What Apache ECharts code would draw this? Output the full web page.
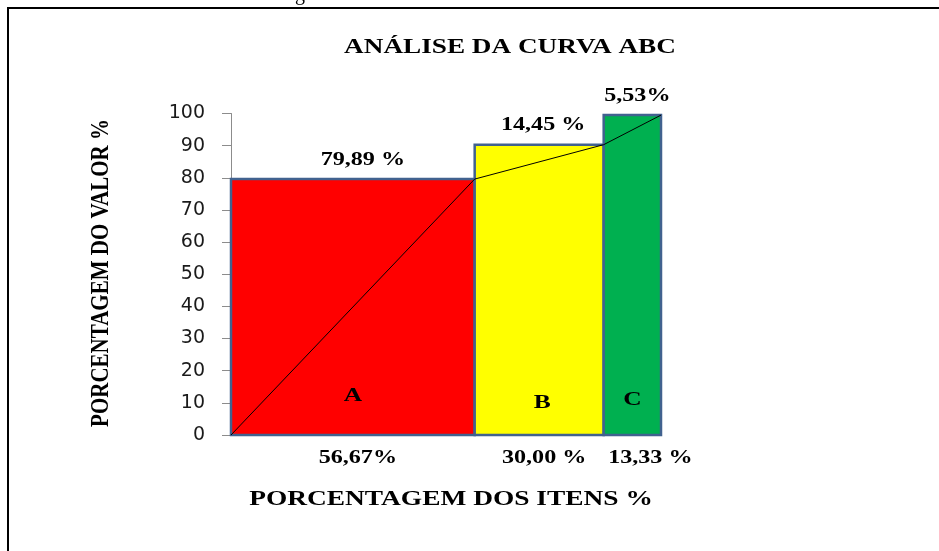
<!DOCTYPE html>
<html>
<head>
<meta charset="utf-8">
<script src="https://cdn.jsdelivr.net/npm/echarts@6/dist/echarts.min.js"></script>
<style>html,body{margin:0;padding:0;background:#fff}#c{width:939px;height:551px}</style>
</head>
<body>
<div id="c"></div>
<script>
// ---- data ----
const classes = ['A', 'B', 'C'];
const itemPct = [56.67, 30.00, 13.33];          // % of items (bar widths)
const valuePct = [79.89, 14.45, 5.53];          // % of value
const barHeights = [79.6, 90.3, 99.5];          // bar tops as drawn
const topLabels = ['79,89 %', '14,45 %', '5,53%'];
const bottomLabels = ['56,67%', '30,00 %', '13,33 %'];
const curveX = [0, 56.67, 86.67, 100];
const curveY = [0, 79.6, 90.3, 99.5];
const yTicks = [0, 100, 10]; // min, max, interval

// ---- build ----
const colors = ['#ff0000', '#ffff00', '#00b050'];
const topDx = [10, 4, 5];
const bottomDx = [5, 5, 18];
const letterDx = [0, 3, 0];
const letterY = [12, 10, 11];
const SX = 1.34;
const serif = '"Liberation Serif", "Times New Roman", serif';

let acc = 0;
const barData = itemPct.map((w, i) => {
  const s = acc; acc += w;
  return [s, acc, barHeights[i]];
});

function txt(x, y, s, size) {
  return {
    type: 'text', x: x, y: y, scaleX: SX, z2: 10,
    style: { text: s, x: 0, y: 0, align: 'center', verticalAlign: 'middle',
      font: 'bold ' + size + 'px ' + serif, fill: '#000' }
  };
}

const chart = echarts.init(document.getElementById('c'), null, { renderer: 'canvas' });
chart.setOption({
  backgroundColor: '#fff',
  animation: false,
  grid: { left: 231, right: 278, top: 113.5, bottom: 116 },
  xAxis: { type: 'value', min: 0, max: 100, show: false },
  yAxis: {
    type: 'value', min: yTicks[0], max: yTicks[1], interval: yTicks[2],
    splitLine: { show: false },
    axisLine: { show: true, lineStyle: { color: '#8c8c8c', width: 1 } },
    axisTick: { show: true, length: 9, lineStyle: { color: '#8c8c8c' } },
    axisLabel: { fontFamily: '"DejaVu Sans", sans-serif', fontSize: 19, color: '#1a1a1a', margin: 26 }
  },
  graphic: [
    { type: 'polyline', shape: { points: [[8, 551], [8, 8], [939, 8]] },
      style: { stroke: '#000', lineWidth: 2, fill: null } },
    { type: 'text', x: 300, y: 5, style: { text: 'g', font: '20px ' + serif, fill: '#000', align: 'center', verticalAlign: 'bottom' } },
    { type: 'text', x: 510, y: 48, scaleX: 1.36,
      style: { text: 'ANÁLISE DA CURVA ABC', x: 0, y: 0, align: 'center', verticalAlign: 'middle', font: 'bold 20px ' + serif, fill: '#000' } },
    { type: 'text', x: 451, y: 500, scaleX: 1.37,
      style: { text: 'PORCENTAGEM DOS ITENS %', x: 0, y: 0, align: 'center', verticalAlign: 'middle', font: 'bold 20px ' + serif, fill: '#000' } },
    { type: 'text', x: 101, y: 273, rotation: Math.PI / 2, scaleY: 1.2,
      style: { text: 'PORCENTAGEM DO VALOR %', x: 0, y: 0, align: 'center', verticalAlign: 'middle', font: 'bold 21px ' + serif, fill: '#000' } }
  ],
  series: [
    {
      type: 'custom',
      data: barData,
      encode: { x: [0, 1], y: 2 },
      renderItem: function (params, api) {
        const i = params.dataIndex;
        const x0 = api.value(0), x1 = api.value(1), h = api.value(2);
        const p0 = api.coord([x0, 0]);
        const p1 = api.coord([x1, h]);
        const cx = (p0[0] + p1[0]) / 2;
        const ly = api.coord([x0, letterY[i]])[1];
        return {
          type: 'group',
          children: [
            { type: 'rect', shape: { x: p0[0], y: p1[1], width: p1[0] - p0[0], height: p0[1] - p1[1] },
              style: { fill: colors[i], stroke: '#41628f', lineWidth: 2.5 } },
            txt(cx + topDx[i], p1[1] - 19, topLabels[i], 18),
            txt(cx + bottomDx[i], p0[1] + 23, bottomLabels[i], 18),
            txt(cx + letterDx[i], ly, classes[i], 19)
          ]
        };
      },
      z: 2
    },
    {
      type: 'line',
      data: curveX.map((x, i) => [x, curveY[i]]),
      symbol: 'none',
      lineStyle: { color: '#000', width: 1 },
      z: 5
    }
  ]
});
</script>
</body>
</html>
